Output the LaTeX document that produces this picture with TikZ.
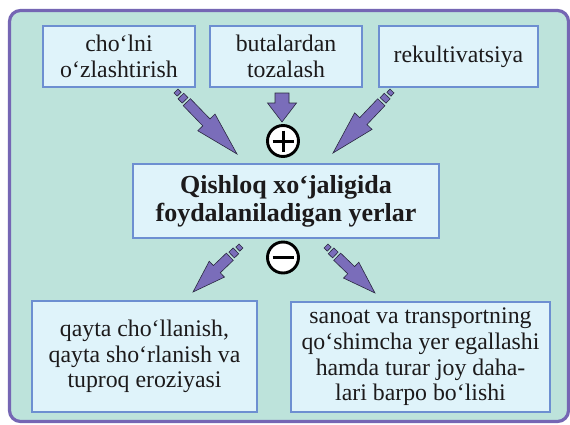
\documentclass[tikz,border=0pt]{standalone}
\usepackage{fontspec}
\setmainfont{Liberation Serif}
\usetikzlibrary{calc}
\definecolor{outerfill}{HTML}{BDE3DB}
\definecolor{outerline}{HTML}{7566B4}
\definecolor{boxfill}{HTML}{DFF3FA}
\definecolor{boxline}{HTML}{6D8FD1}
\definecolor{arrfill}{HTML}{7A6DBA}
\definecolor{arrline}{HTML}{2A2840}
\definecolor{txt}{HTML}{1C1A1B}
\tikzset{
  box/.style={draw=boxline, fill=boxfill, line width=2.4pt, align=center, inner sep=0pt,
    text=txt, font=\fontsize{23.8}{25.6}\selectfont},
  mainbox/.style={box, font=\fontsize{26}{28}\selectfont\bfseries},
  signnode/.style={circle, draw=black, fill=white, line width=2.9pt, minimum size=31pt, inner sep=0pt},
  arrstyle/.style={fill=arrfill, draw=arrline, line width=0.6pt, line join=miter},
}
\newcommand{\getdir}[2]{%
  \path let \p1=($(#2)-(#1)$) in \pgfextra{%
    \pgfmathsetmacro\tmpang{atan2(\y1,\x1)}%
    \pgfmathsetmacro\tmplen{veclen(\x1,\y1)}%
    \global\let\arrang\tmpang\global\let\arrlen\tmplen};%
}
% #1 tail, #2 tip, #3 head length, #4 head half width
\newcommand{\dasharr}[4]{%
  \getdir{#1}{#2}%
  \begin{scope}[shift={(#1)}, rotate=\arrang]
    \path[arrstyle] (0,-2.8) rectangle (4.5,2.8);
    \path[arrstyle] (7,-4) rectangle (13,4);
    \path[arrstyle] (15.5,-5) -- ({\arrlen-#3},-5) -- ({\arrlen-#3},-#4) -- (\arrlen,0)
      -- ({\arrlen-#3},#4) -- ({\arrlen-#3},5) -- (15.5,5) -- cycle;
  \end{scope}}
\newcommand{\solidarr}[5]{%
  \getdir{#1}{#2}%
  \begin{scope}[shift={(#1)}, rotate=\arrang]
    \path[arrstyle] (0,-#5) -- ({\arrlen-#3},-#5) -- ({\arrlen-#3},-#4) -- (\arrlen,0)
      -- ({\arrlen-#3},#4) -- ({\arrlen-#3},#5) -- (0,#5) -- cycle;
  \end{scope}}
\begin{document}
\begin{tikzpicture}[x=1pt, y=-1pt]
\useasboundingbox (0,0) rectangle (570,424);
\fill[white] (0,0) rectangle (570,424);
\draw[outerline, fill=outerfill, line width=3.2pt, rounded corners=11pt] (9.5,10.5) rectangle (568.5,421.5);

\node[box, minimum width=152pt, minimum height=61pt] (b1) at (119,56.5) {cho‘lni\\o‘zlashtirish};
\node[box, minimum width=152pt, minimum height=61pt] (b2) at (286,56.5) {butalardan\\tozalash};
\node[box, minimum width=159pt, minimum height=61pt] (b3) at (458.5,56.5) {rekultivatsiya};
\node[mainbox, minimum width=306pt, minimum height=74pt] (c) at (286,201) {Qishloq xo‘jaligida\\foydalaniladigan yerlar};
\node[box, minimum width=225pt, minimum height=111pt] (d1) at (144.5,356.5) {qayta cho‘llanish,\\qayta sho‘rlanish va\\tuproq eroziyasi};
\node[box, minimum width=259pt, minimum height=110pt] (d2) at (420.5,357) {sanoat va transportning\\qo‘shimcha yer egallashi\\hamda turar joy daha-\\lari barpo bo‘lishi};

\node[signnode] (plus) at (283,141) {};
\draw[line width=3pt] ($(plus.center)+(-10.5,0)$) -- ($(plus.center)+(10.5,0)$);
\draw[line width=3pt] ($(plus.center)+(0,-10.5)$) -- ($(plus.center)+(0,10.5)$);
\node[signnode] (minus) at (283,257.5) {};
\draw[line width=3pt] ($(minus.center)+(-10.5,0)$) -- ($(minus.center)+(10.5,0)$);

\coordinate (a1s) at (176,91);  \coordinate (a1e) at (237,154);
\coordinate (a2s) at (282,93);  \coordinate (a2e) at (282,122);
\coordinate (a3s) at (392,91);  \coordinate (a3e) at (333,153);
\coordinate (a4s) at (241,246); \coordinate (a4e) at (193,292);
\coordinate (a5s) at (326,246); \coordinate (a5e) at (375,293);

\dasharr{a1s}{a1e}{44}{12}
\dasharr{a3s}{a3e}{44}{12}
\dasharr{a4s}{a4e}{33}{11}
\dasharr{a5s}{a5e}{33}{11}
\solidarr{a2s}{a2e}{19}{14.5}{7}
\end{tikzpicture}
\end{document}
